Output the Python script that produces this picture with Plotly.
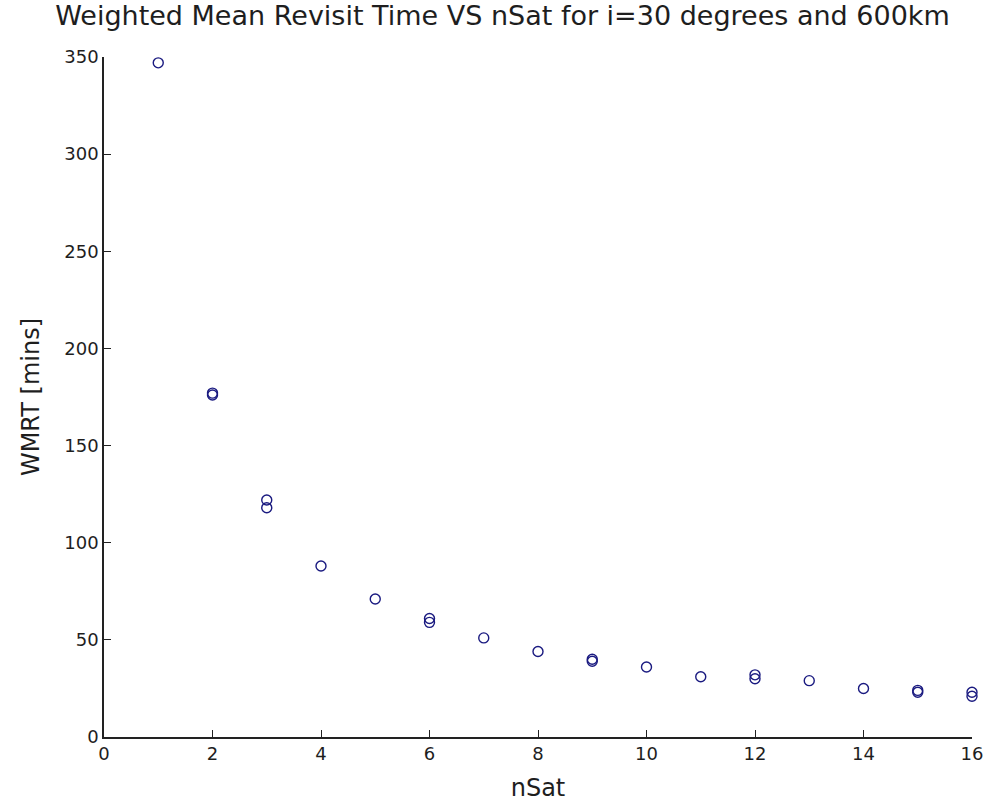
import plotly.graph_objects as go

# Number of satellites in each constellation and its weighted mean revisit time
n_sat = [1, 2, 2, 3, 3, 4, 5, 6, 6, 7, 8, 9, 9, 10, 11, 12, 12, 13, 14, 15, 15, 16, 16]
wmrt_mins = [347, 177, 176, 122, 118, 88, 71, 61, 59, 51, 44, 40, 39, 36, 31, 32, 30, 29, 25, 24, 23, 23, 21]

x_ticks = [0, 2, 4, 6, 8, 10, 12, 14, 16]
y_ticks = [0, 50, 100, 150, 200, 250, 300, 350]

marker_color = "#1a1a80"
text_color = "#1e1e1e"
font_family = "DejaVu Sans, Liberation Sans, sans-serif"

fig = go.Figure(
    go.Scatter(
        x=n_sat,
        y=wmrt_mins,
        mode="markers",
        marker=dict(
            symbol="circle-open",
            size=10,
            color=marker_color,
            line=dict(width=1.4, color=marker_color),
        ),
        showlegend=False,
        cliponaxis=False,
    )
)

axis_common = dict(
    showgrid=False,
    zeroline=False,
    showline=True,
    linecolor="#222222",
    linewidth=1.5,
    ticks="inside",
    ticklen=7,
    tickwidth=1.2,
    tickcolor="#222222",
    tickfont=dict(family=font_family, size=18, color=text_color),
    mirror=False,
)

fig.update_layout(
    width=1005,
    height=809,
    paper_bgcolor="white",
    plot_bgcolor="white",
    margin=dict(l=104, r=33, t=57, b=72),
    title=dict(
        text="Weighted Mean Revisit Time VS nSat for i=30 degrees and 600km",
        x=0.5,
        xanchor="center",
        y=0.981,
        yanchor="middle",
        font=dict(family=font_family, size=27, color=text_color),
    ),
    xaxis=dict(
        range=[0, 16],
        tickvals=x_ticks,
        title=dict(text="nSat", font=dict(family=font_family, size=24, color=text_color), standoff=16),
        **axis_common,
    ),
    yaxis=dict(
        range=[0, 350],
        tickvals=y_ticks,
        title=dict(text="WMRT [mins]", font=dict(family=font_family, size=24, color=text_color), standoff=18),
        **axis_common,
    ),
)

fig.write_html("out.html")
